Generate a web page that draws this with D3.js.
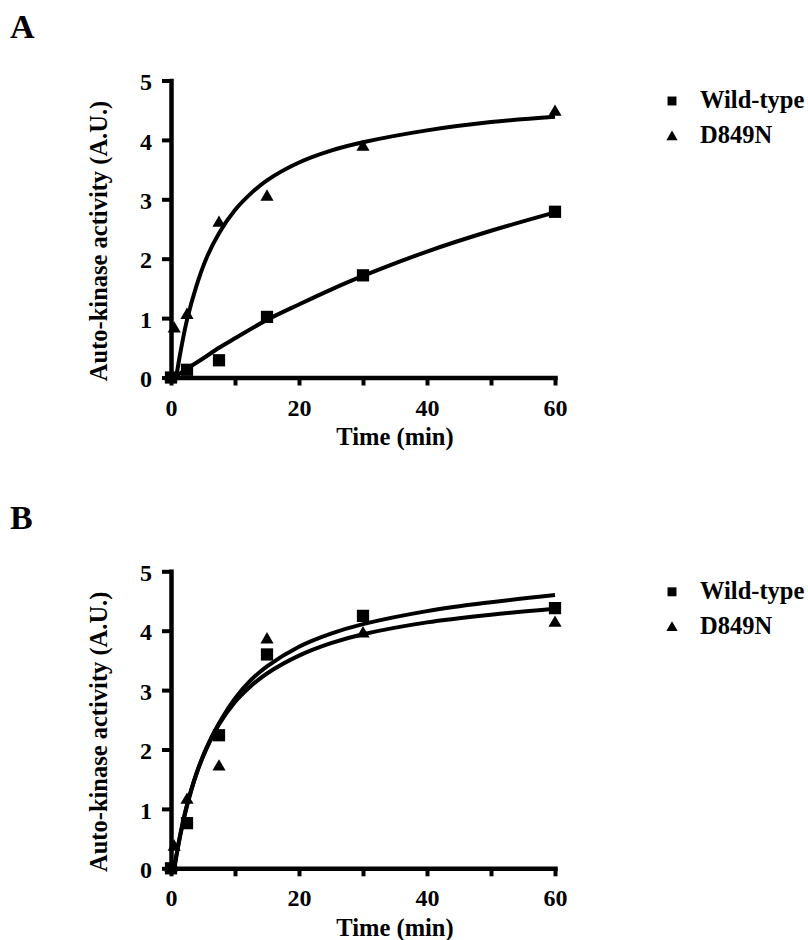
<!DOCTYPE html>
<html>
<head>
<meta charset="utf-8">
<script src="https://cdn.jsdelivr.net/npm/d3@7"></script>
<style>
  html, body { margin: 0; padding: 0; background: #fff; }
  svg text { font-family: "Liberation Serif", "Times New Roman", serif; font-weight: bold; fill: #000; }
</style>
</head>
<body>
<svg id="chart" width="808" height="940"></svg>
<script>
// ---------- data ----------
const seriesNames = ["Wild-type", "D849N"];
const xTicks = [0, 10, 20, 30, 40, 50, 60];
const yTicks = [0, 1, 2, 3, 4, 5];

// Panel A measured points
const timeA_wt = [0, 2.5, 7.5, 15, 30, 60];
const valA_wt  = [0, 0.13, 0.29, 1.02, 1.72, 2.79];
const timeA_mut = [0, 0.5, 2.5, 7.5, 15, 30, 60];
const valA_mut  = [0, 0.82, 1.05, 2.6, 3.04, 3.88, 4.47];

// Panel A fitted curves
const fitTimeA_wt = [0.5, 2.5, 5, 7.5, 10, 15, 20, 25, 30, 40, 50, 60];
const fitValA_wt  = [0, 0.15, 0.32, 0.5, 0.66, 0.97, 1.23, 1.48, 1.71, 2.12, 2.47, 2.78];
const fitTimeA_mut = [0.8, 1.5, 2.5, 4, 5.5, 7.5, 10, 12.5, 15, 20, 25, 30, 40, 50, 60];
const fitValA_mut  = [0, 0.44, 0.97, 1.55, 2.0, 2.43, 2.82, 3.1, 3.32, 3.62, 3.82, 3.96, 4.16, 4.3, 4.39];

// Panel B measured points
const timeB_wt = [0, 2.5, 7.5, 15, 30, 60];
const valB_wt  = [0, 0.76, 2.24, 3.6, 4.25, 4.38];
const timeB_mut = [0, 0.5, 2.5, 7.5, 15, 30, 60];
const valB_mut  = [0, 0.36, 1.15, 1.71, 3.85, 3.95, 4.13];

// Panel B fitted curves
const fitTimeB_wt = [0.5, 1.5, 2.5, 4, 5.5, 7.5, 10, 12.5, 15, 20, 25, 30, 40, 50, 60];
const fitValB_wt  = [0, 0.58, 1.05, 1.6, 2.02, 2.44, 2.86, 3.17, 3.4, 3.73, 3.95, 4.11, 4.33, 4.48, 4.6];
const fitTimeB_mut = [0.5, 1.5, 2.5, 4, 5.5, 7.5, 10, 12.5, 15, 20, 25, 30, 40, 50, 60];
const fitValB_mut  = [0, 0.6, 1.07, 1.6, 2.0, 2.42, 2.8, 3.07, 3.28, 3.58, 3.79, 3.94, 4.14, 4.27, 4.37];

const panelLabels = ["A", "B"];
const xTitle = "Time (min)";
const yTitle = "Auto-kinase activity (A.U.)";

// ---------- drawing ----------
const svg = d3.select("#chart");
const x = d3.scaleLinear().domain([0, 60]).range([171, 555]);

const panels = [
  { label: panelLabels[0], top: 80.5, bottom: 377.5,
    wt: [timeA_wt, valA_wt], mut: [timeA_mut, valA_mut],
    fwt: [fitTimeA_wt, fitValA_wt], fmut: [fitTimeA_mut, fitValA_mut] },
  { label: panelLabels[1], top: 571.3, bottom: 868.3,
    wt: [timeB_wt, valB_wt], mut: [timeB_mut, valB_mut],
    fwt: [fitTimeB_wt, fitValB_wt], fmut: [fitTimeB_mut, fitValB_mut] }
];

const zip = (a, b) => a.map((t, i) => [t, b[i]]);

panels.forEach((p, pi) => {
  const off = p.bottom - 377.5;
  const y = d3.scaleLinear().domain([0, 5]).range([p.bottom, p.top]);
  const g = svg.append("g");

  // panel label
  g.append("text").attr("x", 10).attr("y", 38 + off)
    .attr("font-size", 34).text(p.label);

  // axes
  const xAxis = d3.axisBottom(x).tickValues(xTicks).tickSizeInner(8).tickSizeOuter(0)
    .tickPadding(13).tickFormat(d => d % 20 === 0 ? d : "");
  const yAxis = d3.axisLeft(y).tickValues(yTicks).tickSizeInner(9).tickSizeOuter(0)
    .tickPadding(10).tickFormat(d3.format("d"));

  const gx = g.append("g").attr("transform", `translate(0,${p.bottom})`).call(xAxis);
  const gy = g.append("g").attr("transform", `translate(${x(0)},0)`).call(yAxis);
  [gx, gy].forEach(ax => {
    ax.select(".domain").attr("stroke", "#000").attr("stroke-width", 4.5).attr("stroke-linecap", "square");
    ax.selectAll(".tick line").attr("stroke", "#000").attr("stroke-width", 4);
    ax.selectAll(".tick text").attr("font-size", 24)
      .attr("font-family", "Liberation Serif, Times New Roman, serif")
      .attr("font-weight", "bold").attr("fill", "#000");
  });
  gy.selectAll(".tick text").attr("dy", "0.38em");

  // titles
  g.append("text").attr("x", 395).attr("y", 445 + off)
    .attr("text-anchor", "middle").attr("font-size", 24.5).text(xTitle);
  g.append("text").attr("transform", `translate(107,${241 + off}) rotate(-90)`)
    .attr("text-anchor", "middle").attr("font-size", 24.5).text(yTitle);

  // fitted curves
  const line = d3.line().x(d => x(d[0])).y(d => y(d[1])).curve(d3.curveCatmullRom.alpha(0.5));
  [p.fwt, p.fmut].forEach(f => {
    g.append("path").datum(zip(f[0], f[1])).attr("d", line)
      .attr("fill", "none").attr("stroke", "#000").attr("stroke-width", 4);
  });

  // markers
  const sq = d3.symbol().type(d3.symbolSquare).size(150);
  const tri = d3.symbol().type(d3.symbolTriangle).size(75);
  g.selectAll("path.wt").data(zip(p.wt[0], p.wt[1])).join("path").attr("class", "wt")
    .attr("d", sq).attr("transform", d => `translate(${x(d[0])},${y(d[1])})`).attr("fill", "#000");
  g.selectAll("path.mut").data(zip(p.mut[0], p.mut[1])).join("path").attr("class", "mut")
    .attr("d", tri).attr("transform", d => `translate(${x(d[0])},${y(d[1])})`).attr("fill", "#000");

  // legend
  const lg = g.append("g");
  lg.append("path").attr("d", d3.symbol().type(d3.symbolSquare).size(80)())
    .attr("transform", `translate(672,${101 + off})`).attr("fill", "#000");
  lg.append("path").attr("d", d3.symbol().type(d3.symbolTriangle).size(55)())
    .attr("transform", `translate(672,${137 + off})`).attr("fill", "#000");
  lg.append("text").attr("x", 700).attr("y", 108 + off).attr("font-size", 24.5).text(seriesNames[0]);
  lg.append("text").attr("x", 700).attr("y", 143 + off).attr("font-size", 24.5).text(seriesNames[1]);
});
</script>
</body>
</html>
